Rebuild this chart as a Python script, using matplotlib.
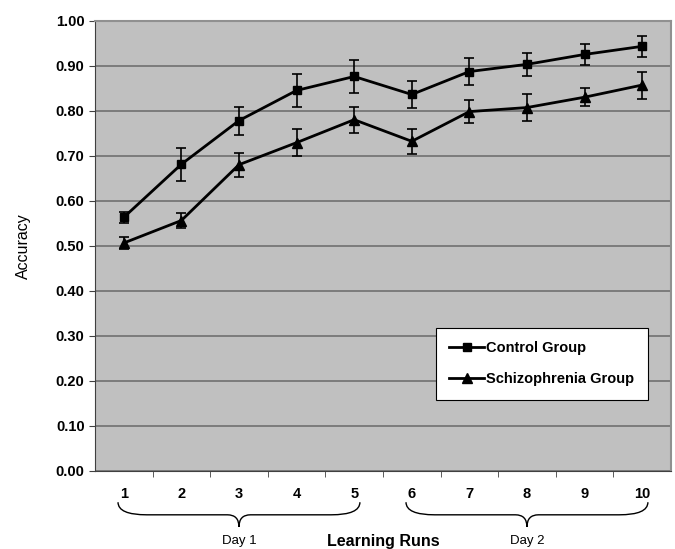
import matplotlib.pyplot as plt
import matplotlib.transforms as mtransforms
from matplotlib.path import Path
from matplotlib.patches import PathPatch
from matplotlib.lines import Line2D

plt.rcParams['font.family'] = ['Liberation Sans', 'DejaVu Sans']

# data
runs = [1, 2, 3, 4, 5, 6, 7, 8, 9, 10]
control = [0.563, 0.681, 0.778, 0.845, 0.876, 0.836, 0.887, 0.903, 0.925, 0.943]
control_err = [0.013, 0.037, 0.031, 0.036, 0.036, 0.030, 0.030, 0.025, 0.024, 0.024]
schizo = [0.506, 0.556, 0.680, 0.729, 0.780, 0.732, 0.798, 0.807, 0.830, 0.857]
schizo_err = [0.013, 0.017, 0.027, 0.030, 0.029, 0.028, 0.026, 0.029, 0.020, 0.030]
y_ticks = [0.0, 0.1, 0.2, 0.3, 0.4, 0.5, 0.6, 0.7, 0.8, 0.9, 1.0]
days = [("Day 1", 1, 5), ("Day 2", 6, 10)]

fig = plt.figure(figsize=(6.75, 5.49), dpi=100)
ax = fig.add_axes([0.1407, 0.1426, 0.8533, 0.8197])
ax.set_facecolor("#c0c0c0")

ax.errorbar(runs, control, yerr=control_err, color="black", lw=2, marker="s",
            ms=6, capsize=3.5, elinewidth=1.2, capthick=1.2)
ax.errorbar(runs, schizo, yerr=schizo_err, color="black", lw=2, marker="^",
            ms=7, capsize=3.5, elinewidth=1.2, capthick=1.2)

ax.set_ylim(0, 1.0)
ax.set_xlim(0.5, 10.5)
ax.set_yticks(y_ticks)
ax.set_yticklabels(["%.2f" % v for v in y_ticks], fontweight="bold", fontsize=10.5)
ax.set_xticks(runs)
ax.set_xticklabels([str(r) for r in runs], fontweight="bold", fontsize=10.5)
ax.set_xticks([r + 0.5 for r in runs[:-1]], minor=True)
ax.tick_params(axis="x", which="major", length=0, pad=12)
ax.tick_params(axis="x", which="minor", length=4, color="#404040")
ax.tick_params(axis="y", length=4, color="#404040")
ax.yaxis.grid(True, color="#707070", lw=1.2)
ax.set_axisbelow(True)
for s in ["top", "right"]:
    ax.spines[s].set_color("#909090")
    ax.spines[s].set_linewidth(1.5)
for s in ["left", "bottom"]:
    ax.spines[s].set_color("#404040")

ax.set_ylabel("Accuracy", fontsize=11.5, labelpad=18)
ax.text(0.5, -0.157, "Learning Runs", transform=ax.transAxes, ha="center",
        va="center", fontsize=11.5, fontweight="bold")

handles = [Line2D([], [], color="black", lw=2, marker="s", ms=6),
           Line2D([], [], color="black", lw=2, marker="^", ms=7)]
leg = ax.legend(handles, ["Control Group", "Schizophrenia Group"],
                loc="lower left", bbox_to_anchor=(0.58, 0.142, 0.392, 0.178),
                mode="expand", fancybox=False, edgecolor="black", framealpha=1,
                prop={"weight": "bold", "size": 10.5}, handlelength=2.4,
                handletextpad=0.1, labelspacing=1.2, borderpad=0.9)
leg.get_frame().set_linewidth(0.8)

# curly braces under the x axis
trans = mtransforms.blended_transform_factory(ax.transData, ax.transAxes)
top, mid, tip = -0.07, -0.098, -0.125
for name, a, b in days:
    x0, x1 = a - 0.1, b + 0.1
    xm = (a + b) / 2
    verts = [(x0, top), (x0, mid), (x0 + 0.5, mid),
             (xm - 0.2, mid), (xm, mid), (xm, tip),
             (xm, mid), (xm + 0.2, mid),
             (x1 - 0.5, mid), (x1, mid), (x1, top)]
    codes = [Path.MOVETO, Path.CURVE3, Path.CURVE3,
             Path.LINETO, Path.CURVE3, Path.CURVE3,
             Path.CURVE3, Path.CURVE3,
             Path.LINETO, Path.CURVE3, Path.CURVE3]
    ax.add_patch(PathPatch(Path(verts, codes), fc="none", ec="black", lw=1,
                           transform=trans, clip_on=False))
    ax.text(xm, -0.157, name, transform=trans, ha="center", va="center", fontsize=9.5)

fig.savefig("out.png", dpi=100)
